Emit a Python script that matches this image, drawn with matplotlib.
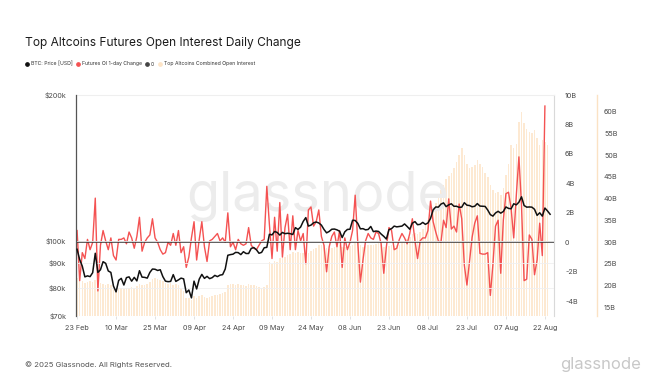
import numpy as np
import pandas as pd
import matplotlib
matplotlib.use("Agg")
import matplotlib.pyplot as plt
import matplotlib.dates as mdates
from matplotlib.lines import Line2D
from matplotlib.ticker import FixedLocator, FixedFormatter, NullLocator

plt.rcParams['font.family'] = ['Inter', 'DejaVu Sans']

# ---------------- data ----------------
start_date = "2025-02-23"

# BTC price, thousands USD, daily 23 Feb -> 24 Aug 2025
btc_price_k = [
    96.1, 91.5, 88.7, 84.3, 84.7, 84.4,
    86.0, 94.3, 86.1, 87.2, 90.6, 89.9, 86.7, 86.1, 80.7, 78.5,
    82.9, 83.7, 81.1, 84.0, 84.3, 82.6, 84.1, 82.7, 86.8, 84.2,
    84.1, 83.8, 86.1, 87.5, 87.4, 86.9, 87.2, 84.4, 82.6, 82.4, 82.5,
    85.2, 82.5, 83.1, 83.8, 83.5, 78.2, 79.2, 76.3, 82.6, 79.6,
    83.4, 85.3, 83.7, 84.5, 83.6, 84.0, 84.9, 84.4, 85.0, 85.2,
    87.5, 93.4, 93.7, 93.9, 94.7, 94.6, 93.7, 95.0, 94.2, 94.2,
    96.5, 96.9, 95.9, 94.3, 94.7, 96.8, 97.0, 103.2, 102.9, 104.6,
    104.1, 102.8, 104.1, 103.5, 103.7, 103.5, 103.1, 106.5, 105.6, 106.8,
    109.7, 111.7, 107.3, 107.8, 109.0, 109.4, 108.9, 107.8, 105.6, 103.9, 104.6,
    105.7, 105.8, 105.4, 104.7, 101.6, 104.4, 105.6, 105.7, 110.3, 110.2,
    108.7, 105.9, 106.0, 105.4, 105.6, 107.1, 104.5, 104.8, 104.6, 103.3,
    102.2, 100.9, 105.5, 106.0, 107.3, 106.9, 107.1, 107.3, 108.4, 107.1,
    105.7, 108.8, 109.6, 108.0, 108.2, 109.2, 108.2, 108.9, 111.3, 115.9,
    117.5, 117.4, 119.1, 119.8, 117.7, 118.7, 119.3, 117.9, 117.9, 117.3,
    117.4, 119.9, 118.5, 118.3, 117.6, 117.9, 119.4, 118.0, 117.9, 117.8, 115.8,
    113.3, 112.5, 114.2, 115.1, 114.1, 115.0, 117.5, 116.7, 116.5, 119.3,
    118.7, 120.2, 123.3, 118.3, 117.4, 117.5, 117.4, 116.2, 112.9, 114.3,
    112.5, 116.9, 115.3, 113.5,
]

# Futures OI 1-day change, billions USD, daily 23 Feb -> 22 Aug 2025
oi_change_b = [
    0.8, -2.6, -0.7, -1.1, 0.2, -0.5, 0.0, 3.0, -3.3, -0.2,
    0.8, 0.1, -0.5, 0.3, -0.9, -1.2, 0.2, 0.2, 0.3, -0.1,
    0.7, 0.3, -0.4, 0.4, 1.7, -0.6, 0.0, 0.3, 0.5, 1.6,
    0.3, 0.0, -0.5, -0.8, -0.7, 0.0, -0.2, 0.6, -0.2, 0.8,
    -0.7, -0.3, -1.7, -1.0, 0.3, 1.4, -1.2, 0.2, 1.4, -0.3,
    -1.3, 0.1, 0.2, 0.4, 0.6, 0.1, 0.3, 0.0, 2.0, -0.3,
    0.0, -0.5, 0.2, -0.1, -0.2, -0.1, 1.0, -0.2, -0.4, -0.5,
    -0.2, 0.1, 0.2, 3.8, 1.2, -1.1, 1.7, -0.6, 2.7, -1.0,
    1.0, 1.9, -0.5, 1.8, -0.5, 0.8, 0.1, 0.6, -1.45, 2.2,
    2.4, 1.1, 1.4, 2.2, 0.4, -0.2, -2.0, -0.3, 0.4, 0.7,
    -0.3, 0.8, -1.7, 0.3, -0.5, 0.0, 0.8, 3.2, 0.0, -2.7,
    -1.2, 0.1, 0.6, 0.3, 0.2, 0.7, 0.6, -0.1, -2.1, -0.3,
    1.0, 0.8, -0.5, -0.4, 0.2, 0.6, 0.3, -0.1, 0.6, 1.6,
    0.1, -1.1, 0.1, 0.3, 0.3, 0.8, 2.8, 1.4, 0.7, 0.1,
    0.0, 1.5, 1.0, 2.95, 0.9, 1.1, 0.7, 2.6, 1.6, -1.55,
    -2.9, -1.3, 0.35, 1.3, 1.8, -0.75, -0.8, -0.8, -0.7, -3.6,
    -1.5, 1.1, 1.5, -2.1, 1.5, 3.3, 3.4, 2.3, 0.3, 3.2,
    5.8, 2.5, -2.6, -2.5, 0.5, 0.2, -2.2, -1.2, 1.3, -0.9,
    9.25,
]

# Top altcoins combined open interest, billions USD, daily 23 Feb -> 23 Aug 2025
combined_oi_b = [
    21.8, 21.5, 21.0, 20.6, 20.8, 21.0, 20.7, 21.2, 20.3, 20.5,
    20.4, 20.2, 20.3, 20.0, 19.6, 19.2, 19.4, 19.5, 19.2, 19.5,
    19.4, 19.6, 19.3, 19.8, 20.4, 20.0, 20.2, 20.3, 20.7, 21.4,
    21.6, 21.5, 21.3, 21.0, 20.6, 20.4, 20.5, 20.2, 20.3, 20.0,
    19.2, 18.6, 17.2, 17.0, 16.6, 17.5, 17.0, 17.6, 17.8, 17.4,
    17.2, 17.4, 17.6, 17.8, 17.9, 18.0, 18.2, 18.4, 20.2, 20.3,
    20.4, 20.2, 20.3, 20.1, 20.0, 19.8, 20.3, 20.2, 20.0, 19.8,
    19.6, 19.5, 19.7, 20.0, 25.3, 25.0, 25.6, 25.5, 26.4, 26.2,
    26.5, 27.0, 27.2, 27.6, 27.5, 27.6, 27.4, 27.5, 27.0, 27.4,
    27.9, 28.3, 28.6, 29.2, 29.3, 29.2, 28.6, 28.5, 28.6, 28.8,
    29.0, 29.2, 28.8, 28.9, 28.8, 29.0, 29.3, 29.8, 29.9, 29.2,
    28.8, 29.0, 29.2, 29.3, 29.4, 29.6, 29.8, 29.6, 28.9, 28.8,
    29.1, 29.3, 29.1, 29.2, 29.4, 29.8, 30.2, 30.8, 31.2, 31.8,
    32.0, 31.8, 32.3, 33.0, 34.0, 35.0, 36.0, 37.5, 39.0, 40.5,
    42.0, 43.2, 44.5, 45.2, 46.0, 47.0, 48.5, 50.0, 51.6, 50.0,
    48.0, 47.0, 47.2, 47.8, 48.9, 48.0, 47.2, 46.0, 45.0, 43.2,
    42.0, 41.2, 41.5, 40.8, 42.5, 45.4, 48.0, 52.3, 51.6, 52.5,
    57.6, 60.0, 57.5, 56.0, 55.3, 55.0, 55.8, 54.0, 52.3, 53.5,
    53.0, 52.3,
]

price_ticks = [70000, 80000, 90000, 100000, 200000]
price_tick_labels = ["$70k", "$80k", "$90k", "$100k", "$200k"]
change_ticks = [-4, -2, 0, 2, 4, 6, 8, 10]
change_tick_labels = ["-4B", "-2B", "0", "2B", "4B", "6B", "8B", "10B"]
oi_ticks = [15, 20, 25, 30, 35, 40, 45, 50, 55, 60]
oi_tick_labels = ["15B", "20B", "25B", "30B", "35B", "40B", "45B", "50B", "55B", "60B"]
date_tick_labels = ["23 Feb", "10 Mar", "25 Mar", "09 Apr", "24 Apr", "09 May", "24 May",
                    "08 Jun", "23 Jun", "08 Jul", "23 Jul", "07 Aug", "22 Aug"]

# ---------------- figure ----------------
W, H = 666, 388
fig = plt.figure(figsize=(W / 100, H / 100), dpi=100)
fig.patch.set_facecolor("white")


def fx(x):
    return x / W


def fy(y):
    return 1 - y / H


L, R, T, B = 76, 554, 95, 316
pos = [fx(L), fy(B), fx(R) - fx(L), fy(T) - fy(B)]

start = pd.Timestamp(start_date)
price_dates = pd.date_range(start, periods=len(btc_price_k), freq="D")
change_dates = pd.date_range(start, periods=len(oi_change_b), freq="D")
oi_dates = pd.date_range(start, periods=len(combined_oi_b), freq="D")
xlim = (start - pd.Timedelta(hours=10), start + pd.Timedelta(hours=int(183.5 * 24)))

tick_color = "#4a4a4a"
tick_fs = 5.2

# --- bars axis (combined OI) ---
ax_oi = fig.add_axes(pos, zorder=0)
ax_oi.bar(oi_dates, combined_oi_b, width=0.6, color="#fde9d2", linewidth=0, zorder=1)
ax_oi.set_xlim(*xlim)
ax_oi.set_ylim(12.95, 63.87)
ax_oi.yaxis.tick_right()
ax_oi.yaxis.set_major_locator(FixedLocator(oi_ticks))
ax_oi.yaxis.set_major_formatter(FixedFormatter(oi_tick_labels))
ax_oi.yaxis.set_minor_locator(NullLocator())
ax_oi.tick_params(axis="y", length=0, pad=5, labelsize=tick_fs, labelcolor=tick_color)
for s in ["left", "top", "bottom"]:
    ax_oi.spines[s].set_visible(False)
ax_oi.spines["right"].set_position(("outward", 31))
ax_oi.spines["right"].set_color("#fbe2c4")
ax_oi.spines["right"].set_linewidth(1.0)

date_ticks = [start + pd.Timedelta(days=15 * i) for i in range(len(date_tick_labels))]
ax_oi.xaxis.set_major_locator(FixedLocator(mdates.date2num(date_ticks)))
ax_oi.xaxis.set_major_formatter(FixedFormatter(date_tick_labels))
ax_oi.tick_params(axis="x", length=2.5, width=0.6, color="#dddddd", pad=4,
                  labelsize=tick_fs, labelcolor=tick_color)

# watermark
fig.text(fx(318), fy(196), "glassnode", fontsize=39, color="#ececec",
         ha="center", va="center", zorder=0.5)

# --- OI change axis ---
ax_chg = fig.add_axes(pos, zorder=1, sharex=ax_oi)
ax_chg.patch.set_alpha(0)
ax_chg.plot(change_dates, oi_change_b, color="#f45252", linewidth=1.0, zorder=2)
ax_chg.axhline(0, color="#333333", linewidth=1.1, zorder=3)
ax_chg.set_ylim(-5, 10)
ax_chg.yaxis.tick_right()
ax_chg.yaxis.set_major_locator(FixedLocator(change_ticks))
ax_chg.yaxis.set_major_formatter(FixedFormatter(change_tick_labels))
ax_chg.tick_params(axis="y", length=0, pad=8, labelsize=tick_fs, labelcolor=tick_color)
ax_chg.tick_params(axis="x", which="both", bottom=False, labelbottom=False)
for s in ["left", "bottom"]:
    ax_chg.spines[s].set_visible(False)
ax_chg.spines["right"].set_color("#d9d9d9")
ax_chg.spines["right"].set_linewidth(0.8)
ax_chg.spines["top"].set_color("#eeeeee")
ax_chg.spines["top"].set_linewidth(0.8)

# --- price axis ---
ax_p = fig.add_axes(pos, zorder=2, sharex=ax_oi)
ax_p.patch.set_alpha(0)
ax_p.set_yscale("log")
ax_p.plot(price_dates, np.array(btc_price_k) * 1000, color="#111111", linewidth=1.1, zorder=3)
ax_p.set_ylim(70000, 200000)
ax_p.yaxis.set_major_locator(FixedLocator(price_ticks))
ax_p.yaxis.set_major_formatter(FixedFormatter(price_tick_labels))
ax_p.yaxis.set_minor_locator(NullLocator())
ax_p.tick_params(axis="y", length=0, pad=7, labelsize=tick_fs, labelcolor=tick_color)
ax_p.tick_params(axis="x", which="both", bottom=False, labelbottom=False)
ax_p.grid(axis="y", color="#f0f0f0", linewidth=0.6)
ax_p.set_axisbelow(True)
for s in ["right", "top", "bottom"]:
    ax_p.spines[s].set_visible(False)
ax_p.spines["left"].set_color("#555555")
ax_p.spines["left"].set_linewidth(0.9)

# ---------------- title, legend, footer ----------------
fig.text(fx(25), fy(43), "Top Altcoins Futures Open Interest Daily Change",
         fontsize=8.6, color="#1c1c1c", ha="left", va="center")

legend_items = [
    (27, "#111111", "BTC: Price [USD]"),
    (78, "#f45252", "Futures OI 1-day Change"),
    (147, "#444444", "0"),
    (160, "#fde4c6", "Top Altcoins Combined Open Interest"),
]
ly = 64
for x, c, label in legend_items:
    fig.add_artist(Line2D([fx(x)], [fy(ly)], marker="o", markersize=2.4, color=c,
                          linestyle="none", transform=fig.transFigure))
    fig.text(fx(x + 4), fy(ly), label, fontsize=3.7, color="#333333",
             ha="left", va="center")

fig.text(fx(25), fy(365), "\u00a9 2025 Glassnode. All Rights Reserved.",
         fontsize=5.6, color="#555555", ha="left", va="center")
fig.text(fx(641), fy(364), "glassnode", fontsize=12, color="#c8c8c8",
         ha="right", va="center")

fig.savefig("out.png", dpi=100, facecolor="white")
